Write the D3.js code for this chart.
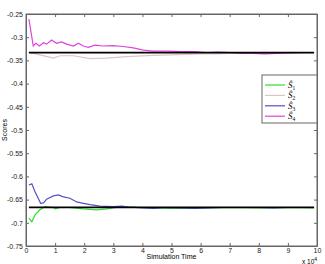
<!DOCTYPE html>
<html lang="en">
<head>
<meta charset="utf-8">
<title>Scores</title>
<script src="https://cdn.jsdelivr.net/npm/d3@7"></script>
<style>
  body { margin: 0; background: #fff; }
  .axis text { font-family: "Liberation Sans", Arial, sans-serif; font-size: 7px; fill: #222; }
  .axis path, .axis line { stroke: #666; }
</style>
</head>
<body>
<script>
// x in units of 10^4
var xTicks = [0, 1, 2, 3, 4, 5, 6, 7, 8, 9, 10];
var yTicks = [-0.75, -0.7, -0.65, -0.6, -0.55, -0.5, -0.45, -0.4, -0.35, -0.3, -0.25];
var yTickLabels = ["-0.75", "-0.7", "-0.65", "-0.6", "-0.55", "-0.5", "-0.45", "-0.4", "-0.35", "-0.3", "-0.25"];

var s1 = [[0.1,-0.690],[0.2,-0.698],[0.31,-0.683],[0.48,-0.672],[0.65,-0.665],[0.94,-0.667],[1.0,-0.670],
  [1.17,-0.667],[1.5,-0.667],[1.97,-0.670],[2.43,-0.672],[2.77,-0.670],[3.1,-0.667],[3.5,-0.666],[4.0,-0.667],
  [5.0,-0.669],[6.0,-0.668],[7.0,-0.667],[8.0,-0.668],[9.0,-0.667],[9.9,-0.668]];
var s2 = [[0.1,-0.333],[0.48,-0.338],[0.94,-0.345],[1.17,-0.340],[1.63,-0.340],[2.2,-0.346],[2.77,-0.345],
  [3.46,-0.342],[4.37,-0.339],[4.95,-0.338],[5.5,-0.337],[6.0,-0.336],[6.5,-0.336],[7.0,-0.335],[8.0,-0.335],
  [9.0,-0.334],[9.9,-0.334]];
var s3 = [[0.1,-0.6185],[0.2,-0.616],[0.31,-0.633],[0.42,-0.647],[0.5,-0.658],[0.6,-0.657],[0.71,-0.649],
  [0.94,-0.642],[1.11,-0.640],[1.28,-0.644],[1.51,-0.647],[1.74,-0.655],[1.97,-0.658],[2.2,-0.661],[2.54,-0.664],
  [3.0,-0.665],[3.3,-0.664],[3.5,-0.666],[4.0,-0.668],[4.4,-0.669],[4.8,-0.667],[5.3,-0.668],[5.8,-0.669],
  [6.3,-0.668],[6.8,-0.667],[7.3,-0.667],[8.0,-0.667],[8.5,-0.668],[9.0,-0.667],[9.9,-0.667]];
var s4 = [[0.1,-0.261],[0.25,-0.319],[0.34,-0.313],[0.46,-0.319],[0.6,-0.312],[0.71,-0.315],[0.88,-0.306],
  [1.05,-0.313],[1.22,-0.310],[1.4,-0.315],[1.63,-0.319],[1.8,-0.313],[1.97,-0.319],[2.14,-0.322],[2.37,-0.317],
  [2.66,-0.319],[3.0,-0.318],[3.34,-0.320],[3.69,-0.323],[4.03,-0.328],[4.37,-0.330],[4.95,-0.330],[5.3,-0.331],
  [5.8,-0.331],[6.2,-0.333],[6.6,-0.332],[7.0,-0.333],[7.4,-0.335],[7.8,-0.335],[8.2,-0.336],[8.6,-0.335],
  [9.0,-0.334],[9.5,-0.333],[9.9,-0.333]];
var target = [-1/3, -2/3];
var targetRange = [0.1, 9.9];

var seriesNames = ["1", "2", "3", "4"];
var seriesColors = ["#2ee02e", "#dcc4c8", "#5252c4", "#dd44dd"];

var w = 325, h = 264;
var padLeft = 26, padRight = 317, padTop = 14, padBottom = 246;

var svg = d3.select("body").append("svg").attr("width", w).attr("height", h);

var xScale = d3.scaleLinear().domain([0, 10]).range([padLeft, padRight]);
var yScale = d3.scaleLinear().domain([-0.75, -0.25]).range([padBottom, padTop]);

// box
svg.append("rect").attr("x", padLeft).attr("y", padTop).attr("width", padRight - padLeft).attr("height", padBottom - padTop)
  .attr("fill", "none").attr("stroke", "#666");

var xAxis = d3.axisBottom(xScale).tickValues(xTicks).tickFormat(d3.format("d")).tickSizeInner(-3).tickSizeOuter(0).tickPadding(2);
var yAxis = d3.axisLeft(yScale).tickValues(yTicks).tickFormat(function(d, i) { return yTickLabels[i]; })
  .tickSizeInner(-3).tickSizeOuter(0).tickPadding(3);

svg.append("g").attr("class", "axis").attr("transform", "translate(0," + padBottom + ")").call(xAxis);
svg.append("g").attr("class", "axis").attr("transform", "translate(" + padLeft + ",0)").call(yAxis);
// mirrored ticks top/right
svg.append("g").attr("class", "axis").attr("transform", "translate(0," + padTop + ")")
  .call(d3.axisTop(xScale).tickValues(xTicks).tickFormat("").tickSizeInner(-3).tickSizeOuter(0));
svg.append("g").attr("class", "axis").attr("transform", "translate(" + padRight + ",0)")
  .call(d3.axisRight(yScale).tickValues(yTicks).tickFormat("").tickSizeInner(-3).tickSizeOuter(0));
svg.selectAll(".axis .domain").attr("stroke", "#666");

var line = d3.line().x(function(d) { return xScale(d[0]); }).y(function(d) { return yScale(d[1]); });

[s1, s2, s3, s4].forEach(function(s, i) {
  svg.append("path").datum(s).attr("d", line).attr("fill", "none")
    .attr("stroke", seriesColors[i]).attr("stroke-width", 1.2);
});

target.forEach(function(t) {
  svg.append("line").attr("x1", xScale(targetRange[0])).attr("x2", xScale(targetRange[1]))
    .attr("y1", yScale(t)).attr("y2", yScale(t)).attr("stroke", "#000").attr("stroke-width", 1.8);
});

// legend
var lg = svg.append("g");
lg.append("rect").attr("x", 262).attr("y", 75).attr("width", 55).attr("height", 48)
  .attr("fill", "#fff").attr("stroke", "#666");
seriesNames.forEach(function(n, i) {
  var yy = 85 + i * 10.4;
  lg.append("line").attr("x1", 265).attr("x2", 285).attr("y1", yy).attr("y2", yy)
    .attr("stroke", seriesColors[i]).attr("stroke-width", 1.2);
  var t = lg.append("text").attr("x", 288).attr("y", yy + 3)
    .attr("font-family", "'Liberation Serif', serif").attr("font-size", "9px").attr("font-style", "italic");
  t.append("tspan").text("\u015C");
  t.append("tspan").attr("font-size", "5.5px").attr("font-style", "normal").attr("dy", 2).text(n);
});

// axis titles
svg.append("text").attr("x", (padLeft + padRight) / 2).attr("y", 259).attr("text-anchor", "middle")
  .attr("font-family", "'Liberation Sans', Arial, sans-serif").attr("font-size", "7px").text("Simulation Time");
svg.append("text").attr("transform", "translate(7," + (padTop + padBottom) / 2 + ") rotate(-90)")
  .attr("text-anchor", "middle").attr("font-family", "'Liberation Sans', Arial, sans-serif")
  .attr("font-size", "7px").text("Scores");
var ex = svg.append("text").attr("x", 302).attr("y", 264)
  .attr("font-family", "'Liberation Sans', Arial, sans-serif").attr("font-size", "6.5px");
ex.append("tspan").text("x 10");
ex.append("tspan").attr("dy", -3).attr("font-size", "5px").text("4");
</script>
</body>
</html>
